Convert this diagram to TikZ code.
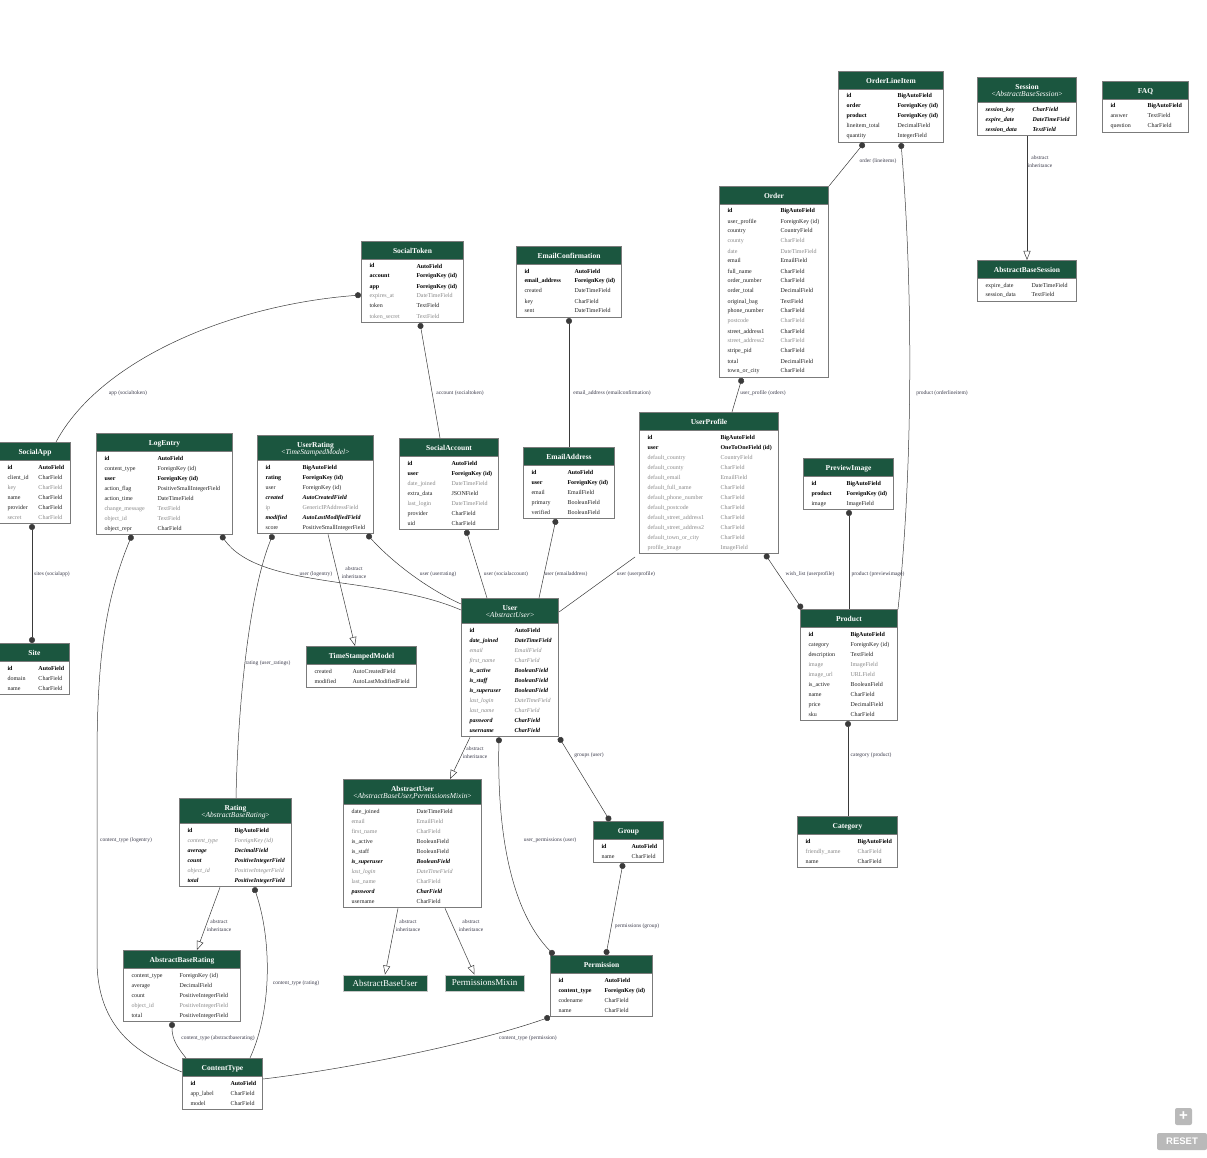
\documentclass[tikz,border=0pt]{standalone}
\usepackage{fontspec}
\setmainfont{Liberation Serif}
\newfontfamily\uifont{Liberation Sans}
\usetikzlibrary{shapes.multipart,arrows.meta}

\definecolor{hdr}{HTML}{1B563F}
\definecolor{tblborder}{HTML}{7B7B7B}
\definecolor{fnorm}{HTML}{222222}
\definecolor{fgray}{HTML}{8A8A8A}
\definecolor{edgec}{HTML}{3A3A3A}
\definecolor{lblc}{HTML}{3A3A4A}

% field rows: bold, normal, gray, bold italic, gray italic
\newlength{\nw}
\newcommand{\rowB}[2]{\makebox[\nw][l]{\bfseries #1}&{\bfseries #2}\\}
\newcommand{\rowN}[2]{\makebox[\nw][l]{\color{fnorm}#1}&{\color{fnorm}#2}\\}
\newcommand{\rowG}[2]{\makebox[\nw][l]{\color{fgray}#1}&{\color{fgray}#2}\\}
\newcommand{\rowBI}[2]{\makebox[\nw][l]{\bfseries\itshape #1}&{\bfseries\itshape #2}\\}
\newcommand{\rowGI}[2]{\makebox[\nw][l]{\color{fgray}\itshape #1}&{\color{fgray}\itshape #2}\\}
\newcommand{\stereo}[1]{{\mdseries<\textit{#1}>}}
\newcommand{\hdrfont}{\fontsize{7.5}{7}\selectfont\bfseries\color{white}}
\newcommand{\fieldfont}{\fontsize{6}{10}\selectfont}

% name, left, top, width, type column offset, header, rows
\newcommand{\model}[7]{%
  \node[model] (#1) at (#2,#3) {\makebox[#4pt]{\hdrfont\begin{tabular}{@{}c@{}}\rule{0pt}{10.5pt}#6\rule[-4.5pt]{0pt}{0pt}\end{tabular}}%
    \nodepart{two}\setlength{\nw}{\dimexpr#5pt-8pt\relax}\makebox[#4pt][l]{\fieldfont\begin{tabular}{@{\hspace{8pt}}l@{}l@{}}#7\end{tabular}}};}

\tikzset{
  model/.style={rectangle split, rectangle split parts=2, rectangle split part fill={hdr,white},
    draw=tblborder, line width=1pt, inner xsep=0pt, inner ysep=1pt, anchor=north west},
  plainmodel/.style={fill=hdr, draw=gray!45, line width=0.8pt, text=white, inner sep=0pt,
    minimum height=16pt, font=\fontsize{9}{9}\selectfont},
  edgeline/.style={draw=edgec, line width=0.5pt},
  fk/.style={edgeline, {Circle[length=6pt]}-},
  mm/.style={edgeline, {Circle[length=6pt]}-{Circle[length=6pt]}},
  inh/.style={edgeline, -{Triangle[open,length=9pt,width=7pt]}},
  lbl/.style={font=\fontsize{5.5}{8}\selectfont, text=lblc, inner sep=0.5pt, align=center},
  uibtn/.style={fill=gray!55, text=white, rounded corners=2pt, inner sep=0pt}
}

\begin{document}
\begin{tikzpicture}[x=1pt,y=-1pt]
\useasboundingbox (0,0) rectangle (1207,1158);

% tables
\model{oli}{838}{71}{105}{59}{OrderLineItem}{%
\rowB{id}{BigAutoField}
\rowB{order}{ForeignKey (id)}
\rowB{product}{ForeignKey (id)}
\rowN{lineitem\_total}{DecimalField}
\rowN{quantity}{IntegerField}}

\model{session}{977}{77}{99}{55}{Session\\\stereo{AbstractBaseSession}}{%
\rowBI{session\_key}{CharField}
\rowBI{expire\_date}{DateTimeField}
\rowBI{session\_data}{TextField}}

\model{faq}{1102}{81}{86}{45}{FAQ}{%
\rowB{id}{BigAutoField}
\rowN{answer}{TextField}
\rowN{question}{CharField}}

\model{abssession}{977}{260}{99}{54}{AbstractBaseSession}{%
\rowN{expire\_date}{DateTimeField}
\rowN{session\_data}{TextField}}

\model{order}{719}{186}{109}{61}{Order}{%
\rowB{id}{BigAutoField}
\rowN{user\_profile}{ForeignKey (id)}
\rowN{country}{CountryField}
\rowG{county}{CharField}
\rowG{date}{DateTimeField}
\rowN{email}{EmailField}
\rowN{full\_name}{CharField}
\rowN{order\_number}{CharField}
\rowN{order\_total}{DecimalField}
\rowN{original\_bag}{TextField}
\rowN{phone\_number}{CharField}
\rowG{postcode}{CharField}
\rowN{street\_address1}{CharField}
\rowG{street\_address2}{CharField}
\rowN{stripe\_pid}{CharField}
\rowN{total}{DecimalField}
\rowN{town\_or\_city}{CharField}}

\model{socialtoken}{361}{241}{102}{55}{SocialToken}{%
\rowB{id}{AutoField}
\rowB{account}{ForeignKey (id)}
\rowB{app}{ForeignKey (id)}
\rowG{expires\_at}{DateTimeField}
\rowN{token}{TextField}
\rowG{token\_secret}{TextField}}

\model{emailconf}{516}{246}{105}{58}{EmailConfirmation}{%
\rowB{id}{AutoField}
\rowB{email\_address}{ForeignKey (id)}
\rowN{created}{DateTimeField}
\rowN{key}{CharField}
\rowN{sent}{DateTimeField}}

\model{socialapp}{-1}{442}{71}{39}{SocialApp}{%
\rowB{id}{AutoField}
\rowN{client\_id}{CharField}
\rowG{key}{CharField}
\rowN{name}{CharField}
\rowN{provider}{CharField}
\rowG{secret}{CharField}}

\model{logentry}{96}{433}{136}{61}{LogEntry}{%
\rowB{id}{AutoField}
\rowN{content\_type}{ForeignKey (id)}
\rowB{user}{ForeignKey (id)}
\rowN{action\_flag}{PositiveSmallIntegerField}
\rowN{action\_time}{DateTimeField}
\rowG{change\_message}{TextField}
\rowG{object\_id}{TextField}
\rowN{object\_repr}{CharField}}

\model{userrating}{257}{435}{116}{45}{UserRating\\\stereo{TimeStampedModel}}{%
\rowB{id}{BigAutoField}
\rowB{rating}{ForeignKey (id)}
\rowN{user}{ForeignKey (id)}
\rowBI{created}{AutoCreatedField}
\rowG{ip}{GenericIPAddressField}
\rowBI{modified}{AutoLastModifiedField}
\rowN{score}{PositiveSmallIntegerField}}

\model{socialaccount}{399}{438}{99}{52}{SocialAccount}{%
\rowB{id}{AutoField}
\rowB{user}{ForeignKey (id)}
\rowG{date\_joined}{DateTimeField}
\rowN{extra\_data}{JSONField}
\rowG{last\_login}{DateTimeField}
\rowN{provider}{CharField}
\rowN{uid}{CharField}}

\model{emailaddr}{523}{447}{91}{44}{EmailAddress}{%
\rowB{id}{AutoField}
\rowB{user}{ForeignKey (id)}
\rowN{email}{EmailField}
\rowN{primary}{BooleanField}
\rowN{verified}{BooleanField}}

\model{userprofile}{639}{412}{139}{81}{UserProfile}{%
\rowB{id}{BigAutoField}
\rowB{user}{OneToOneField (id)}
\rowG{default\_country}{CountryField}
\rowG{default\_county}{CharField}
\rowG{default\_email}{EmailField}
\rowG{default\_full\_name}{CharField}
\rowG{default\_phone\_number}{CharField}
\rowG{default\_postcode}{CharField}
\rowG{default\_street\_address1}{CharField}
\rowG{default\_street\_address2}{CharField}
\rowG{default\_town\_or\_city}{CharField}
\rowG{profile\_image}{ImageField}}

\model{previewimg}{803}{458}{90}{43}{PreviewImage}{%
\rowB{id}{BigAutoField}
\rowB{product}{ForeignKey (id)}
\rowN{image}{ImageField}}

\model{site}{-1}{643}{70}{39}{Site}{%
\rowB{id}{AutoField}
\rowN{domain}{CharField}
\rowN{name}{CharField}}

\model{tsmodel}{306}{646}{110}{46}{TimeStampedModel}{%
\rowN{created}{AutoCreatedField}
\rowN{modified}{AutoLastModifiedField}}

\model{user}{461}{598}{97}{53}{User\\\stereo{AbstractUser}}{%
\rowB{id}{AutoField}
\rowBI{date\_joined}{DateTimeField}
\rowGI{email}{EmailField}
\rowGI{first\_name}{CharField}
\rowBI{is\_active}{BooleanField}
\rowBI{is\_staff}{BooleanField}
\rowBI{is\_superuser}{BooleanField}
\rowGI{last\_login}{DateTimeField}
\rowGI{last\_name}{CharField}
\rowBI{password}{CharField}
\rowBI{username}{CharField}}

\model{product}{800}{609}{97}{50}{Product}{%
\rowB{id}{BigAutoField}
\rowN{category}{ForeignKey (id)}
\rowN{description}{TextField}
\rowG{image}{ImageField}
\rowG{image\_url}{URLField}
\rowN{is\_active}{BooleanField}
\rowN{name}{CharField}
\rowN{price}{DecimalField}
\rowN{sku}{CharField}}

\model{rating}{179}{798}{112}{55}{Rating\\\stereo{AbstractBaseRating}}{%
\rowB{id}{BigAutoField}
\rowGI{content\_type}{ForeignKey (id)}
\rowBI{average}{DecimalField}
\rowBI{count}{PositiveIntegerField}
\rowGI{object\_id}{PositiveIntegerField}
\rowBI{total}{PositiveIntegerField}}

\model{absuser}{343}{779}{138}{73}{AbstractUser\\\stereo{AbstractBaseUser,PermissionsMixin}}{%
\rowN{date\_joined}{DateTimeField}
\rowG{email}{EmailField}
\rowG{first\_name}{CharField}
\rowN{is\_active}{BooleanField}
\rowN{is\_staff}{BooleanField}
\rowBI{is\_superuser}{BooleanField}
\rowGI{last\_login}{DateTimeField}
\rowG{last\_name}{CharField}
\rowBI{password}{CharField}
\rowN{username}{CharField}}

\model{group}{593}{821}{70}{38}{Group}{%
\rowB{id}{AutoField}
\rowN{name}{CharField}}

\model{category}{797}{816}{100}{60}{Category}{%
\rowB{id}{BigAutoField}
\rowG{friendly\_name}{CharField}
\rowN{name}{CharField}}

\model{permission}{550}{955}{102}{54}{Permission}{%
\rowB{id}{AutoField}
\rowB{content\_type}{ForeignKey (id)}
\rowN{codename}{CharField}
\rowN{name}{CharField}}

\model{absrating}{123}{950}{117}{56}{AbstractBaseRating}{%
\rowN{content\_type}{ForeignKey (id)}
\rowN{average}{DecimalField}
\rowN{count}{PositiveIntegerField}
\rowG{object\_id}{PositiveIntegerField}
\rowN{total}{PositiveIntegerField}}

\model{contenttype}{182}{1058}{80}{48}{ContentType}{%
\rowB{id}{AutoField}
\rowN{app\_label}{CharField}
\rowN{model}{CharField}}

\node[plainmodel, minimum width=84pt] (absbaseuser) at (385,983) {AbstractBaseUser};
\node[plainmodel, minimum width=79pt] (permmixin) at (484.5,983) {PermissionsMixin};

% connectors
\draw[fk] ([xshift=26pt]oli.south west) -- (order.north east);
\draw[fk] ([xshift=63pt]oli.south west) .. controls (914,300) and (912,480) .. (product.north east);
\draw[inh] (session.south) -- (abssession.north);
\draw[fk] ([yshift=-13pt]socialtoken.west) .. controls (230,305) and (100,360) .. ([xshift=57pt]socialapp.north west);
\draw[fk] ([xshift=59pt]socialtoken.south west) -- ([xshift=41pt]socialaccount.north west);
\draw[fk] (emailconf.south) -- (emailaddr.north);
\draw[fk] ([xshift=23pt]order.south west) -- ([xshift=93pt]userprofile.north west);
\draw[mm] ([xshift=33pt]socialapp.south west) -- ([xshift=33pt]site.north west);
\draw[fk] ([xshift=36pt]logentry.south west) .. controls (105,600) and (97,660) .. (97,760) -- (97,960)
  .. controls (97,1030) and (140,1055) .. ([yshift=12pt]contenttype.west);
\draw[fk] ([xshift=125pt]logentry.south west) .. controls (260,590) and (380,575) .. ([yshift=-12pt]user.north west);
\draw[fk] ([xshift=16pt]userrating.south west) .. controls (250,590) and (238,700) .. ([xshift=57pt]rating.north west);
\draw[inh] ([xshift=71pt]userrating.south west) -- ([xshift=49pt]tsmodel.north west);
\draw[fk] ([xshift=110pt]userrating.south west) .. controls (395,565) and (430,590) .. ([yshift=-6pt]user.north west);
\draw[fk] ([xshift=67pt]socialaccount.south west) -- ([xshift=26pt]user.north west);
\draw[fk] ([xshift=33pt]emailaddr.south west) -- ([xshift=78pt]user.north west);
\draw[edgeline] ([xshift=-4pt,yshift=-3pt]userprofile.south west) -- ([yshift=-14pt]user.north east);
\draw[mm] ([xshift=126pt]userprofile.south west) -- ([xshift=2pt]product.north west);
\draw[fk] ([xshift=46pt]previewimg.south west) -- ([xshift=49pt]product.north west);
\draw[inh] ([xshift=9pt]user.south west) -- ([xshift=107pt]absuser.north west);
\draw[mm] ([xshift=38pt]user.south west) .. controls (497,830) and (510,910) .. ([xshift=4pt]permission.north west);
\draw[mm] (user.south east) -- ([xshift=17pt]group.north west);
\draw[fk] ([xshift=48pt]product.south west) -- ([xshift=51pt]category.north west);
\draw[inh] ([xshift=41pt]rating.south west) -- ([xshift=74pt]absrating.north west);
\draw[fk] ([xshift=75pt]rating.south west) .. controls (272,940) and (272,1010) .. ([xshift=68pt]contenttype.north west);
\draw[fk] ([xshift=49pt]absrating.south west) .. controls (172,1040) and (178,1048) .. ([xshift=4pt]contenttype.north west);
\draw[inh] ([xshift=55pt]absuser.south west) -- (absbaseuser.north);
\draw[inh] ([xshift=102pt]absuser.south west) -- ([xshift=-10pt]permmixin.north);
\draw[mm] ([xshift=30pt]group.south west) -- ([xshift=56pt]permission.north west);
\draw[fk] (permission.south west) .. controls (470,1045) and (340,1070) .. ([yshift=5pt]contenttype.east);

% connector labels
\node[lbl] (l-oli-order) at (878,161) {order (lineitems)};
\node[lbl] (l-oli-product) at (942,393) {product (orderlineitem)};
\node[lbl] (l-session) at (1040,162) {abstract\\inheritance};
\node[lbl] (l-token-app) at (128,393) {app (socialtoken)};
\node[lbl] (l-token-account) at (460,393) {account (socialtoken)};
\node[lbl] (l-emailconf) at (612,393) {email\_address (emailconfirmation)};
\node[lbl] (l-order-profile) at (763,393) {user\_profile (orders)};
\node[lbl] (l-sites) at (52,574) {sites (socialapp)};
\node[lbl] (l-log-ct) at (126,840) {content\_type (logentry)};
\node[lbl] (l-log-user) at (316,574) {user (logentry)};
\node[lbl] (l-ur-inh) at (354,573) {abstract\\inheritance};
\node[lbl] (l-ur-user) at (438,574) {user (userrating)};
\node[lbl] (l-sa-user) at (506,574) {user (socialaccount)};
\node[lbl] (l-ea-user) at (566,574) {user (emailaddress)};
\node[lbl] (l-up-user) at (636,574) {user (userprofile)};
\node[lbl] (l-wish) at (810,574) {wish\_list (userprofile)};
\node[lbl] (l-preview) at (878,574) {product (previewimage)};
\node[lbl] (l-rating) at (268,663) {rating (user\_ratings)};
\node[lbl] (l-user-inh) at (475,753) {abstract\\inheritance};
\node[lbl] (l-groups) at (589,755) {groups (user)};
\node[lbl] (l-category) at (871,755) {category (product)};
\node[lbl] (l-userperm) at (550,840) {user\_permissions (user)};
\node[lbl] (l-rating-inh) at (219,926) {abstract\\inheritance};
\node[lbl] (l-rating-ct) at (296,983) {content\_type (rating)};
\node[lbl] (l-au-inh1) at (408,926) {abstract\\inheritance};
\node[lbl] (l-au-inh2) at (471,926) {abstract\\inheritance};
\node[lbl] (l-groupperm) at (637,926) {permissions (group)};
\node[lbl] (l-abr-ct) at (218,1038) {content\_type (abstractbaserating)};
\node[lbl] (l-perm-ct) at (528,1038) {content\_type (permission)};

% viewer buttons
\node[uibtn, minimum width=17pt, minimum height=17pt, font=\uifont\bfseries\fontsize{15}{15}\selectfont] (zoomin) at (1183.5,1116.5) {+};
\node[uibtn, minimum width=50pt, minimum height=17pt, font=\uifont\bfseries\fontsize{9.5}{9.5}\selectfont] (reset) at (1182,1141.5) {RESET};
\end{tikzpicture}
\end{document}
